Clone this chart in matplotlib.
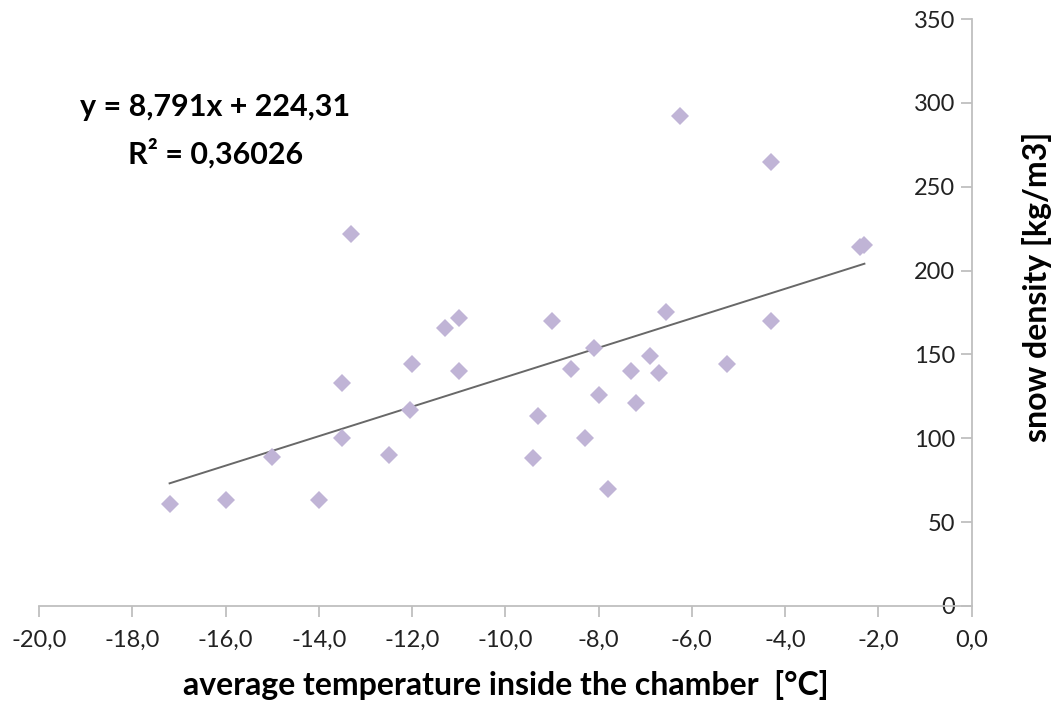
import numpy as np
import matplotlib.pyplot as plt

plt.rcParams['font.family'] = ['Lato', 'DejaVu Sans']

# average temperature inside the chamber [°C]
temperature = [-17.2, -16.0, -15.0, -14.0, -13.5, -13.5, -13.3, -12.5, -12.05, -12.0,
               -11.3, -11.0, -11.0, -9.4, -9.3, -9.0, -8.6, -8.3, -8.1, -8.0,
               -7.8, -7.3, -7.2, -6.9, -6.7, -6.55, -6.25, -5.25, -4.3, -4.3,
               -2.4, -2.3]
# snow density [kg/m3]
density = [61, 63, 89, 63, 100, 133, 222, 90, 117, 144,
           166, 172, 140, 88, 113, 170, 141, 100, 154, 126,
           70, 140, 121, 149, 139, 175, 292, 144, 265, 170,
           214, 215]

slope = 8.791
intercept = 224.31
r2 = 0.36026

x_ticks = np.arange(-20, 0.1, 2)
y_ticks = np.arange(0, 351, 50)

axis_grey = '#BFBFBF'

fig = plt.figure(figsize=(10.55, 7.07), dpi=100)
ax = fig.add_axes([0.037, 0.143, 0.884, 0.830])

ax.plot(temperature, density, linestyle='none', marker='D', markersize=9,
        color='#C0B4D6', markeredgewidth=0, zorder=3)

xs = np.array([min(temperature), max(temperature)])
ax.plot(xs, slope * xs + intercept, color='#686868', linewidth=1.4, zorder=2)

ax.set_xlim(-20, 0)
ax.set_ylim(0, 350)

ax.spines['top'].set_visible(False)
ax.spines['right'].set_visible(False)
ax.spines['left'].set_position(('data', 0))
ax.spines['left'].set_color(axis_grey)
ax.spines['bottom'].set_color(axis_grey)
ax.spines['left'].set_linewidth(1.3)
ax.spines['bottom'].set_linewidth(1.3)

ax.set_xticks(x_ticks)
ax.set_xticklabels([f"{t:.1f}".replace('.', ',') for t in x_ticks])
ax.set_yticks(y_ticks)
ax.set_yticklabels([str(int(t)) for t in y_ticks])
ax.tick_params(axis='both', direction='out', length=8, width=1.3,
               color=axis_grey, labelsize=17, labelcolor='#222222')
ax.tick_params(axis='x', pad=9)
ax.tick_params(axis='y', pad=4)

ax.set_xlabel("average temperature inside the chamber  [°C]", fontsize=23,
              fontweight='bold', labelpad=14)
fig.text(0.983, 0.594, "snow density [kg/m3]", rotation=90, fontsize=23,
         fontweight='bold', ha='center', va='center')

ax.text(0.204, 0.848, f"y = {slope:g}x + {intercept:g}".replace('.', ','),
        transform=fig.transFigure, ha='center', va='center',
        fontsize=22, fontweight='bold')
ax.text(0.204, 0.783, f"R² = {r2:.5f}".replace('.', ','),
        transform=fig.transFigure, ha='center', va='center',
        fontsize=22, fontweight='bold')

fig.savefig('out.png', dpi=100)
